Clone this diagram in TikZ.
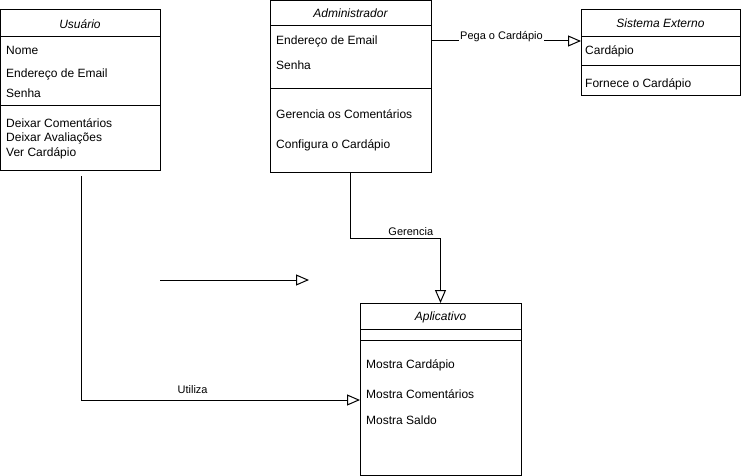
\documentclass[tikz,border=0pt]{standalone}
\usepackage{fontspec}
\setmainfont{Liberation Sans}
\usepackage{tikz}
\usetikzlibrary{arrows.meta,calc}
\tikzset{
  ClassBox/.style={
    draw=black, line width=1pt, fill=white,
    rectangle, inner sep=0pt, outer sep=0pt,
    anchor=north west
  },
  ClassTitle/.style={anchor=base, inner sep=0pt, font=\itshape\fontsize{12}{14}\selectfont},
  ClassItem/.style={anchor=base west, inner sep=0pt, font=\fontsize{12}{14}\selectfont},
  EdgeLabel/.style={anchor=base, inner sep=1pt, fill=white, font=\fontsize{11}{13}\selectfont},
  OpenTri/.style={
    line width=1pt,
    -{Triangle[open, length=13pt, width=11pt, fill=white]}
  }
}
\newcommand{\Compartment}[2]{%
  % #1 = class node, #2 = distance below its top edge
  \draw[line width=1pt] ([yshift=-#2pt]#1.north west) -- ([yshift=-#2pt]#1.north east);
}

\begin{document}
\begin{tikzpicture}[x=1pt, y=-1pt, line cap=butt, line join=miter]
  \useasboundingbox (0,0) rectangle (741,476);

  % classes
  \node[ClassBox, minimum width=160pt, minimum height=160pt] (usuario) at (0,10) {};
  \node[ClassBox, minimum width=161pt, minimum height=171pt] (admin) at (270,1) {};
  \node[ClassBox, minimum width=159pt, minimum height=86pt] (sistema) at (581,10) {};
  \node[ClassBox, minimum width=161pt, minimum height=172pt] (aplic) at (360,303) {};

  \Compartment{usuario}{27}
  \Compartment{usuario}{96}
  \Compartment{admin}{25}
  \Compartment{admin}{88}
  \Compartment{sistema}{27}
  \Compartment{sistema}{56}
  \Compartment{aplic}{26}
  \Compartment{aplic}{37}

  % Usuario
  \node[ClassTitle] (usuTitulo) at (80,28.5) {Usuário};
  \node[ClassItem] (usuNome) at (6,55) {Nome};
  \node[ClassItem] (usuEmail) at (6,78) {Endereço de Email};
  \node[ClassItem] (usuSenha) at (6,98) {Senha};
  \node[ClassItem] (usuComent) at (6,128) {Deixar Comentários};
  \node[ClassItem] (usuAval) at (6,142) {Deixar Avaliações};
  \node[ClassItem] (usuCard) at (6,156) {Ver Cardápio};

  % Administrador
  \node[ClassTitle] (admTitulo) at (350.5,17.5) {Administrador};
  \node[ClassItem] (admEmail) at (276,44.5) {Endereço de Email};
  \node[ClassItem] (admSenha) at (276,69.5) {Senha};
  \node[ClassItem] (admComent) at (276,118) {Gerencia os Comentários};
  \node[ClassItem] (admCard) at (276,148) {Configura o Cardápio};

  % Sistema Externo
  \node[ClassTitle] (sisTitulo) at (660.5,27.5) {Sistema Externo};
  \node[ClassItem] (sisCard) at (585,55) {Cardápio};
  \node[ClassItem] (sisFornece) at (585,87.5) {Fornece o Cardápio};

  % Aplicativo
  \node[ClassTitle] (aplTitulo) at (440.5,320.5) {Aplicativo};
  \node[ClassItem] (aplCard) at (366,368) {Mostra Cardápio};
  \node[ClassItem] (aplComent) at (366,398) {Mostra Comentários};
  \node[ClassItem] (aplSaldo) at (366,424) {Mostra Saldo};

  % connectors
  \draw[OpenTri] ([yshift=-40pt]admin.north east) -- ([yshift=-31pt]sistema.north west)
    node[EdgeLabel, pos=0.47, yshift=1.5pt] (lblPega) {Pega o Cardápio};
  \draw[OpenTri] (admin.south) -- ++(0,66) -| (aplic.north)
    node[EdgeLabel, pos=0.335, fill=none, yshift=3pt] (lblGerencia) {Gerencia};
  \draw[OpenTri] ([xshift=1pt, yshift=-6pt]usuario.south) |- ([yshift=-97pt]aplic.north west)
    node[EdgeLabel, pos=0.70, fill=none, yshift=7pt] (lblUtiliza) {Utiliza};

  \coordinate (soltoIni) at (160,280);
  \coordinate (soltoFim) at (309,280);
  \draw[OpenTri] (soltoIni) -- (soltoFim);
\end{tikzpicture}
\end{document}
